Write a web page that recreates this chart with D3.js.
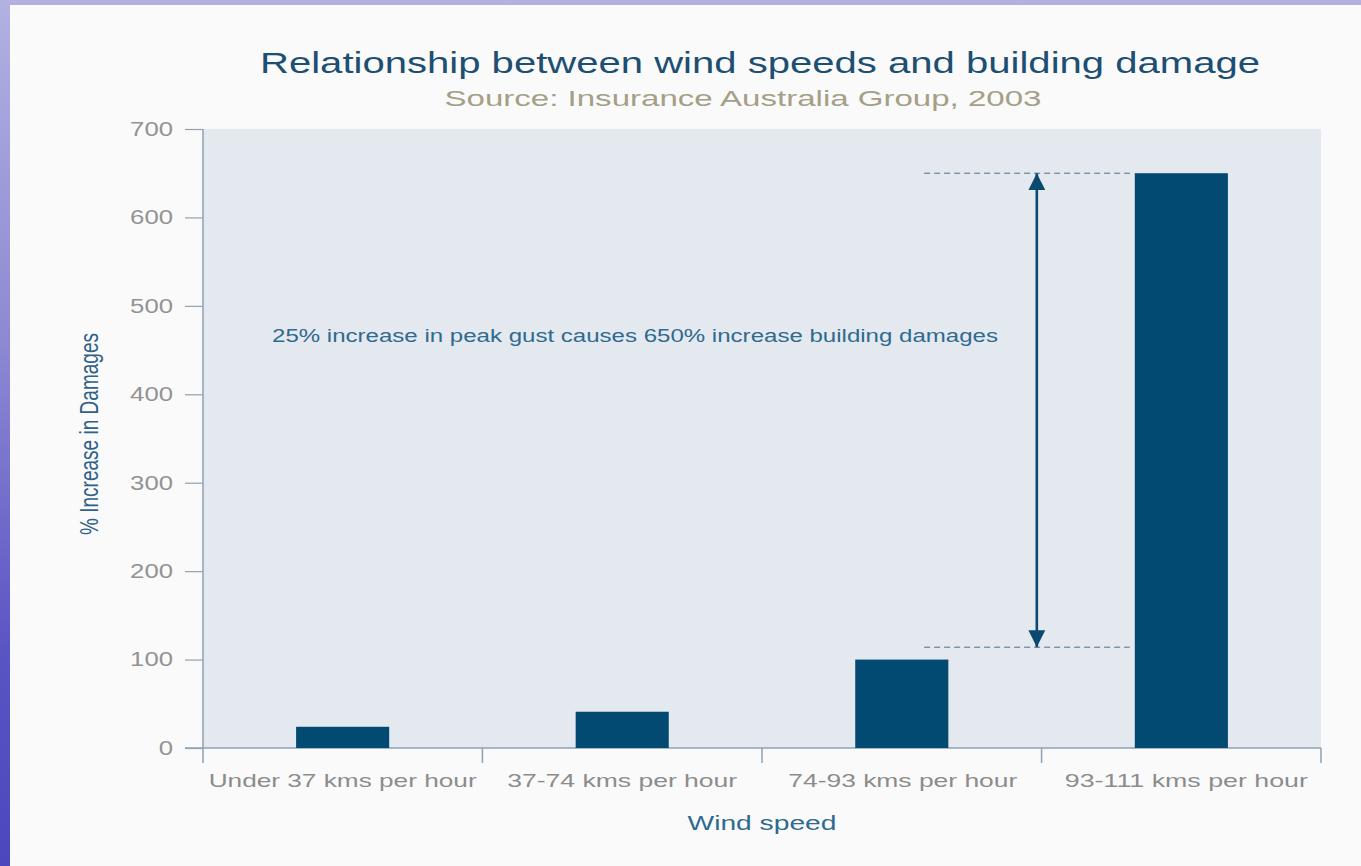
<!DOCTYPE html>
<html>
<head>
<meta charset="utf-8">
<script src="https://cdn.jsdelivr.net/npm/d3@7"></script>
<style>
  html, body { margin: 0; padding: 0; }
  body {
    width: 1361px; height: 866px; overflow: hidden;
    background: linear-gradient(to bottom, #b3b0e2 0%, #8d88d2 40%, #5a55c4 75%, #4a48bc 100%);
  }
  svg { display: block; }
</style>
</head>
<body>
<svg id="chart" width="1361" height="866"></svg>
<script>
// Wind speed bands and the percentage increase in building damage for each
const categories = ["Under 37 kms per hour", "37-74 kms per hour", "74-93 kms per hour", "93-111 kms per hour"];
const damageIncrease = [24, 41, 100, 650];
const yTicks = [0, 100, 200, 300, 400, 500, 600, 700];

// Annotation: span between the two dashed reference levels
const spanLevels = [114, 650];
const annotationText = "25% increase in peak gust causes 650% increase building damages";

const titleText = "Relationship between wind speeds and building damage";
const subtitleText = "Source: Insurance Australia Group, 2003";
const yAxisTitle = "% Increase in Damages";
const xAxisTitle = "Wind speed";

const W = 1361, H = 866;
const plot = { left: 203, right: 1321, top: 129, bottom: 748 };
const FONT = "'Liberation Sans', Arial, Helvetica, sans-serif";

// The type is set wide; scale each label so its glyphs fill the given run
function fit(sel, len) {
  sel.attr("textLength", len).attr("lengthAdjust", "spacingAndGlyphs");
  return sel;
}

const svg = d3.select("#chart");

// White slide panel
svg.append("rect")
  .attr("x", 10).attr("y", 5)
  .attr("width", W - 10).attr("height", H - 5)
  .attr("fill", "#fafafa");

const x = d3.scaleBand()
  .domain(categories)
  .range([plot.left, plot.right])
  .paddingInner(0.667)
  .paddingOuter(0.333);

const y = d3.scaleLinear()
  .domain([0, 700])
  .range([plot.bottom, plot.top]);

// Plot background
svg.append("rect")
  .attr("x", plot.left).attr("y", plot.top)
  .attr("width", plot.right - plot.left).attr("height", plot.bottom - plot.top)
  .attr("fill", "#e4e9ef");

const axisColor = "#8ea2b4";
const tickTextColor = "#8c8c8c";

// Y axis
const yAxis = svg.append("g")
  .attr("transform", `translate(${plot.left},0)`)
  .call(d3.axisLeft(y).tickValues(yTicks).tickSize(18).tickPadding(12).tickSizeOuter(0));
yAxis.select(".domain").remove();
yAxis.selectAll(".tick line").attr("stroke", axisColor).attr("stroke-width", 1.2);
yAxis.selectAll(".tick text")
  .attr("fill", "#939393")
  .style("font-family", FONT)
  .style("font-size", "20px")
  .each(function (d) {
    fit(d3.select(this), String(d).length * 14.3);
  });
svg.append("line")
  .attr("x1", plot.left).attr("x2", plot.left)
  .attr("y1", plot.top).attr("y2", plot.bottom + 15)
  .attr("stroke", axisColor).attr("stroke-width", 1.5);

// X axis baseline and category boundary ticks
svg.append("line")
  .attr("x1", plot.left - 18).attr("x2", plot.right)
  .attr("y1", plot.bottom).attr("y2", plot.bottom)
  .attr("stroke", axisColor).attr("stroke-width", 1.5);

const boundaries = categories.slice(1)
  .map(c => x(c) - x.step() * x.paddingInner() / 2)
  .concat([plot.right]);
svg.append("g").selectAll("line")
  .data(boundaries)
  .join("line")
  .attr("x1", d => d).attr("x2", d => d)
  .attr("y1", plot.bottom).attr("y2", plot.bottom + 15)
  .attr("stroke", axisColor).attr("stroke-width", 1.5);

// Category labels
const labelWidths = [268, 230, 229, 243];
const labelShift = [0, 0, 1, 5];
svg.append("g").selectAll("text")
  .data(categories)
  .join("text")
  .attr("x", (d, i) => x(d) + x.bandwidth() / 2 + labelShift[i])
  .attr("y", 787)
  .attr("text-anchor", "middle")
  .attr("fill", tickTextColor)
  .style("font-family", FONT)
  .style("font-size", "18.5px")
  .attr("textLength", (d, i) => labelWidths[i])
  .attr("lengthAdjust", "spacingAndGlyphs")
  .text(d => d);

// Bars
svg.append("g").selectAll("rect")
  .data(categories.map((c, i) => ({ c, v: damageIncrease[i] })))
  .join("rect")
  .attr("x", d => x(d.c))
  .attr("width", x.bandwidth())
  .attr("y", d => y(d.v))
  .attr("height", d => y(0) - y(d.v))
  .attr("fill", "#034a72");

// Dashed reference lines and double-headed arrow
const mid3 = x(categories[2]) + x.bandwidth() / 2;
const dashStart = mid3 + x.step() * 0.08;
const dashEnd = x(categories[3]) - 5;
const arrowX = mid3 + x.step() * 0.483;

svg.append("g").selectAll("line")
  .data(spanLevels)
  .join("line")
  .attr("x1", dashStart).attr("x2", dashEnd)
  .attr("y1", d => y(d)).attr("y2", d => y(d))
  .attr("stroke", "#4f6f8a")
  .attr("stroke-width", 1)
  .attr("stroke-dasharray", "6,4");

const defs = svg.append("defs");
defs.append("marker")
  .attr("id", "arrowHead")
  .attr("viewBox", "0 0 10 10")
  .attr("refX", 10).attr("refY", 5)
  .attr("markerWidth", 6.5).attr("markerHeight", 6.5)
  .attr("markerUnits", "strokeWidth")
  .attr("orient", "auto-start-reverse")
  .append("path")
  .attr("d", "M0,0 L10,5 L0,10 Z")
  .attr("fill", "#0b4a70");

svg.append("line")
  .attr("x1", arrowX).attr("x2", arrowX)
  .attr("y1", y(spanLevels[1])).attr("y2", y(spanLevels[0]))
  .attr("stroke", "#0b4a70")
  .attr("stroke-width", 2.6)
  .attr("marker-start", "url(#arrowHead)")
  .attr("marker-end", "url(#arrowHead)");

// Annotation text
fit(svg.append("text")
  .attr("x", 272).attr("y", 342)
  .attr("fill", "#2f6a8f")
  .style("font-family", FONT)
  .style("font-size", "17.5px")
  .text(annotationText), 726);

// Titles
fit(svg.append("text")
  .attr("x", 760).attr("y", 73)
  .attr("text-anchor", "middle")
  .attr("fill", "#1d4f72")
  .style("font-family", FONT)
  .style("font-size", "30px")
  .text(titleText), 1000);

fit(svg.append("text")
  .attr("x", 743).attr("y", 106)
  .attr("text-anchor", "middle")
  .attr("fill", "#a49f86")
  .style("font-family", FONT)
  .style("font-size", "21.5px")
  .text(subtitleText), 597);

// Axis titles
fit(svg.append("text")
  .attr("transform", `translate(98,434) rotate(-90)`)
  .attr("text-anchor", "middle")
  .attr("fill", "#2e6288")
  .style("font-family", "'Liberation Sans Narrow', " + FONT)
  .style("font-size", "25px")
  .text(yAxisTitle), 202);

fit(svg.append("text")
  .attr("x", 762).attr("y", 830)
  .attr("text-anchor", "middle")
  .attr("fill", "#2f6a8f")
  .style("font-family", FONT)
  .style("font-size", "20.5px")
  .text(xAxisTitle), 149);
</script>
</body>
</html>
